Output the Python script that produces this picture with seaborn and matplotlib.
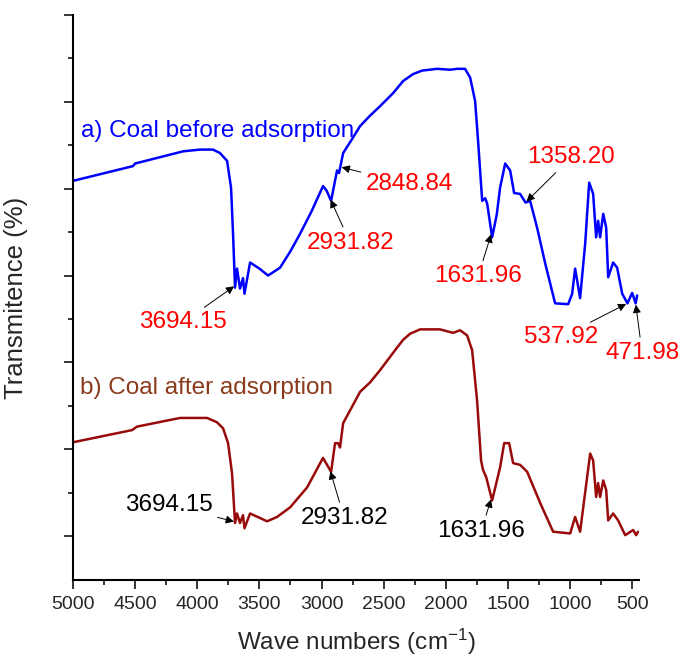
import numpy as np
import pandas as pd
import matplotlib
matplotlib.use("Agg")
import matplotlib.pyplot as plt
import seaborn as sns

# ---------------- data ----------------
wn_a = [5000, 4517, 4500, 4114, 3980, 3873, 3817, 3760, 3728, 3712, 3696, 3680, 3656, 3632, 3620,
        3575, 3500, 3430, 3334, 3250, 3173, 3080, 2988, 2960, 2923, 2875, 2859, 2826, 2746, 2690,
        2610, 2529, 2424, 2343, 2263,
        2190, 2070, 1965, 1909, 1845, 1804, 1764, 1740, 1707, 1683, 1667, 1627, 1590, 1563,
        1522, 1482, 1450, 1402, 1358, 1321, 1265, 1200, 1120, 1015, 983, 959, 919, 878,
        846, 814, 790, 774, 758, 733, 709, 693, 653, 621, 580, 538, 500, 472, 460]
tr_a = [4.09, 4.26, 4.29, 4.43, 4.45, 4.45, 4.41, 4.32, 4.01, 3.48, 2.86, 3.08, 2.85, 2.97, 2.79,
        3.15, 3.08, 3.00, 3.09, 3.28, 3.48, 3.74, 4.03, 3.98, 3.86, 4.21, 4.18, 4.41, 4.59, 4.72,
        4.84, 4.95, 5.10, 5.24, 5.32,
        5.36, 5.38, 5.37, 5.38, 5.38, 5.28, 5.01, 4.55, 3.86, 3.89, 3.83, 3.44, 3.70, 4.01,
        4.29, 4.21, 3.95, 3.94, 3.84, 3.86, 3.55, 3.14, 2.68, 2.67, 2.79, 3.08, 2.74, 3.37,
        4.07, 3.94, 3.44, 3.63, 3.44, 3.71, 3.55, 2.98, 3.15, 3.09, 2.79, 2.68, 2.80, 2.68, 2.77]

wn_b = [5000, 4525, 4485, 4139, 3921, 3841, 3792, 3752, 3720, 3696, 3680, 3656, 3632,
        3620, 3575, 3438, 3358, 3253, 3116, 2988, 2923, 2891, 2867, 2851, 2826, 2750, 2690,
        2609, 2529, 2392, 2343, 2287, 2207, 2046, 1941, 1885, 1828, 1788, 1748, 1716, 1700, 1675,
        1627, 1563, 1530, 1490, 1458, 1402, 1345, 1240, 1136, 999, 959, 919, 838, 814,
        790, 774, 758, 733, 709, 693, 653, 613, 556, 492, 468, 452]
tr_b = [1.08, 1.22, 1.26, 1.36, 1.36, 1.31, 1.24, 1.07, 0.72, 0.15, 0.26, 0.15, 0.24,
        0.09, 0.26, 0.17, 0.22, 0.33, 0.56, 0.90, 0.74, 1.07, 1.07, 1.02, 1.30, 1.50, 1.66,
        1.77, 1.91, 2.17, 2.26, 2.33, 2.38, 2.38, 2.34, 2.37, 2.31, 2.14, 1.56, 0.87, 0.76, 0.68,
        0.41, 0.79, 1.07, 1.07, 0.84, 0.82, 0.74, 0.38, 0.05, 0.03, 0.22, 0.05, 0.95, 0.87,
        0.45, 0.61, 0.45, 0.64, 0.53, 0.18, 0.26, 0.18, 0.01, 0.07, 0.01, 0.05]

peaks_a = [3694.15, 2931.82, 2848.84, 1631.96, 1358.20, 537.92, 471.98]
peaks_b = [3694.15, 2931.82, 1631.96]
label_a = "a) Coal before adsorption"
label_b = "b) Coal after adsorption"
x_ticks = [5000, 4500, 4000, 3500, 3000, 2500, 2000, 1500, 1000, 500]

# ---------------- style ----------------
sns.set_style("ticks")
plt.rcParams["font.family"] = ["Liberation Sans", "DejaVu Sans"]
plt.rcParams["mathtext.default"] = "regular"

fig = plt.figure(figsize=(6.81, 6.57), dpi=100)
ax = fig.add_axes([73 / 681, 77 / 657, 566 / 681, 565 / 657])

df_a = pd.DataFrame({"wn": wn_a, "T": tr_a})
df_b = pd.DataFrame({"wn": wn_b, "T": tr_b})
sns.lineplot(data=df_a, x="wn", y="T", ax=ax, color="#0000FF", lw=1.8, sort=False)
sns.lineplot(data=df_b, x="wn", y="T", ax=ax, color="#990A0A", lw=1.8, sort=False)

ax.set_xlim(5000, 445)
ax.set_ylim(-0.506, 6.0)
ax.set_xticks(x_ticks)
ax.set_xticks(np.arange(4750, 400, -500), minor=True)
ax.set_yticks(np.arange(0, 6.01, 1))
ax.set_yticks(np.arange(0.5, 6.0, 1), minor=True)
ax.set_yticklabels([])
ax.tick_params(axis="both", which="major", length=6.5, width=1.3, direction="out")
ax.tick_params(axis="both", which="minor", length=3.5, width=1.3, direction="out")
ax.tick_params(axis="x", labelsize=14, pad=5)
for s in ["top", "right"]:
    ax.spines[s].set_visible(False)
for s in ["left", "bottom"]:
    ax.spines[s].set_linewidth(1.5)
    ax.spines[s].set_color("black")

ax.set_xlabel("Wave numbers (cm$^{-1}$)", fontsize=17.5)
ax.set_ylabel("Transmitence (%)", fontsize=18.5)
ax.xaxis.set_label_coords(0.5, -0.082)
ax.yaxis.set_label_coords(-0.08, 0.5)

ax.text(4936, 4.67, label_a, color="#0000FF", fontsize=17.5, ha="left", va="center")
ax.text(4944, 1.71, label_b, color="#8B3A1A", fontsize=17.5, ha="left", va="center")

xa = np.array(wn_a[::-1]); ya = np.array(tr_a[::-1])
xb = np.array(wn_b[::-1]); yb = np.array(tr_b[::-1])

text_pos_a = [(4114, 2.46), (2770, 3.38), (2295, 4.05), (1740, 2.99),
              (991, 4.36), (1072, 2.29), (420, 2.11)]
text_pos_b = [(4227, 0.36), (2818, 0.21), (1716, 0.06)]

arrow = dict(arrowstyle="-|>", color="black", lw=0.7, mutation_scale=12,
             shrinkA=1, shrinkB=1)
for p, (tx, ty) in zip(peaks_a, text_pos_a):
    ax.annotate(f"{p:.2f}", xy=(p, np.interp(p, xa, ya)), xytext=(tx, ty),
                color="#FF0000", fontsize=17.5, ha="center", va="center",
                arrowprops=arrow, annotation_clip=False)
for p, (tx, ty) in zip(peaks_b, text_pos_b):
    ax.annotate(f"{p:.2f}", xy=(p, np.interp(p, xb, yb)), xytext=(tx, ty),
                color="black", fontsize=17.5, ha="center", va="center",
                arrowprops=arrow, annotation_clip=False)

fig.savefig("out.png", dpi=100)
